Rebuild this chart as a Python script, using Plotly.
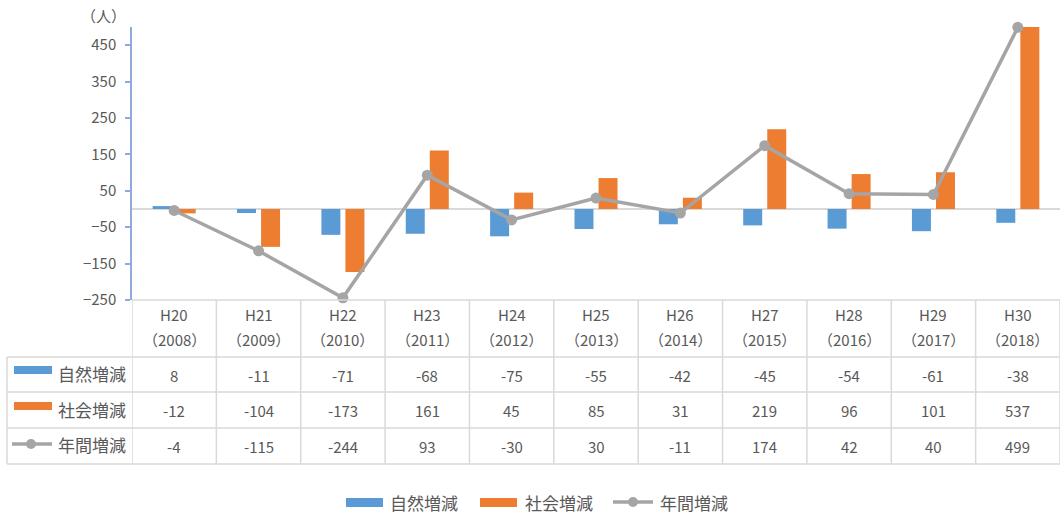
import plotly.graph_objects as go

categories = ["H20", "H21", "H22", "H23", "H24", "H25", "H26", "H27", "H28", "H29", "H30"]
years = ["2008", "2009", "2010", "2011", "2012", "2013", "2014", "2015", "2016", "2017", "2018"]
natural = [8, -11, -71, -68, -75, -55, -42, -45, -54, -61, -38]
social = [-12, -104, -173, 161, 45, 85, 31, 219, 96, 101, 537]
annual = [-4, -115, -244, 93, -30, 30, -11, 174, 42, 40, 499]
series_names = ["自然増減", "社会増減", "年間増減"]
y_ticks = [-250, -150, -50, 50, 150, 250, 350, 450]

C_BLUE = "#5B9BD5"
C_ORANGE = "#ED7D31"
C_GREY = "#A5A5A5"
TXT = "#595959"
GRID = "#D9D9D9"
FONT = "Noto Sans CJK JP"

W, H = 1060, 516
L, R, T, B = 132, 0, 27, 216
PW = W - L - R
PH = H - T - B


def py(p):
    return (H - B - p) / PH


def px(p):
    return (p - L) / PW


fig = go.Figure()
fig.add_trace(go.Bar(x=categories, y=natural, name=series_names[0],
                     marker=dict(color=C_BLUE, line=dict(width=0))))
fig.add_trace(go.Bar(x=categories, y=social, name=series_names[1],
                     marker=dict(color=C_ORANGE, line=dict(width=0))))
fig.add_trace(go.Scatter(x=categories, y=annual, name=series_names[2], mode="lines+markers",
                         line=dict(color=C_GREY, width=3.5),
                         marker=dict(color=C_GREY, size=11), cliponaxis=False))

shapes = []
annotations = []


def text(x, xref, y_px, s, size=15, xanchor="center"):
    annotations.append(dict(x=x, xref=xref, y=py(y_px), yref="paper", text=s,
                            xanchor=xanchor, yanchor="middle", showarrow=False,
                            font=dict(family=FONT, size=size, color=TXT)))


# table horizontal lines
row_lines = [357, 392, 428, 464]
shapes.append(dict(type="line", xref="paper", yref="paper", x0=0, x1=1,
                   y0=py(300), y1=py(300), line=dict(color=GRID, width=1.5)))
for yy in row_lines:
    shapes.append(dict(type="line", xref="paper", yref="paper", x0=px(7), x1=1,
                       y0=py(yy), y1=py(yy), line=dict(color=GRID, width=1.5)))
# table vertical lines
for i in range(len(categories) + 1):
    shapes.append(dict(type="line", xref="x", yref="paper", x0=i - 0.5, x1=i - 0.5,
                       y0=py(300), y1=py(464), line=dict(color=GRID, width=1.5)))
shapes.append(dict(type="line", xref="paper", yref="paper", x0=px(7), x1=px(7),
                   y0=py(357), y1=py(464), line=dict(color=GRID, width=1.5)))

# header text
for c, yv in zip(categories, years):
    text(c, "x", 314, c)
    text(c, "x", 339, "（" + yv + "）")

row_centers = [375, 411, 447]
for vals, yc in zip([natural, social, annual], row_centers):
    for c, v in zip(categories, vals):
        text(c, "x", yc, str(v))

# row headers with keys
colors = [C_BLUE, C_ORANGE]
for k in range(2):
    yc = row_centers[k]
    shapes.append(dict(type="rect", xref="paper", yref="paper", x0=px(14), x1=px(52),
                       y0=py(yc - 1), y1=py(yc - 9), fillcolor=colors[k], line=dict(width=0)))
shapes.append(dict(type="line", xref="paper", yref="paper", x0=px(12), x1=px(52),
                   y0=py(444), y1=py(444), line=dict(color=C_GREY, width=3.5)))
shapes.append(dict(type="circle", xref="paper", yref="paper", x0=px(26), x1=px(36),
                   y0=py(439), y1=py(449), fillcolor=C_GREY, line=dict(width=0)))
for name, yc in zip(series_names, row_centers):
    text(px(128), "paper", yc - 2, name, size=17, xanchor="right")

# bottom legend
leg_y = 502
shapes.append(dict(type="rect", xref="paper", yref="paper", x0=px(346), x1=px(383),
                   y0=py(leg_y - 4), y1=py(leg_y + 5), fillcolor=C_BLUE, line=dict(width=0)))
shapes.append(dict(type="rect", xref="paper", yref="paper", x0=px(480), x1=px(517),
                   y0=py(leg_y - 4), y1=py(leg_y + 5), fillcolor=C_ORANGE, line=dict(width=0)))
shapes.append(dict(type="line", xref="paper", yref="paper", x0=px(613), x1=px(653),
                   y0=py(leg_y), y1=py(leg_y), line=dict(color=C_GREY, width=3.5)))
shapes.append(dict(type="circle", xref="paper", yref="paper", x0=px(628), x1=px(638),
                   y0=py(leg_y - 5), y1=py(leg_y + 5), fillcolor=C_GREY, line=dict(width=0)))
for name, x0 in zip(series_names, [388, 523, 658]):
    text(px(x0), "paper", leg_y, name, size=17, xanchor="left")

# unit label
text(px(128), "paper", 16, "（人）", size=15, xanchor="right")

fig.update_layout(
    width=W, height=H,
    margin=dict(l=L, r=R, t=T, b=B),
    plot_bgcolor="white", paper_bgcolor="white",
    barmode="group", bargap=0.43, bargroupgap=0.21,
    showlegend=False,
    shapes=shapes, annotations=annotations,
    font=dict(family=FONT, color=TXT),
    xaxis=dict(type="category", showticklabels=False, showgrid=False, zeroline=False,
               showline=False, ticks="", range=[-0.5, 10.5]),
    yaxis=dict(range=[-250, 500], tickvals=y_ticks, showgrid=False,
               zeroline=True, zerolinecolor=GRID, zerolinewidth=2,
               showline=True, linecolor="#8FAADC", linewidth=1.5,
               ticks="outside", ticklen=5, tickcolor="#8FAADC", tickwidth=1.5,
               ticklabelstandoff=6,
               tickfont=dict(family=FONT, size=15, color=TXT)),
)

fig.write_html("out.html", config={"displayModeBar": False},
               post_script="document.body.style.margin='0px';")
